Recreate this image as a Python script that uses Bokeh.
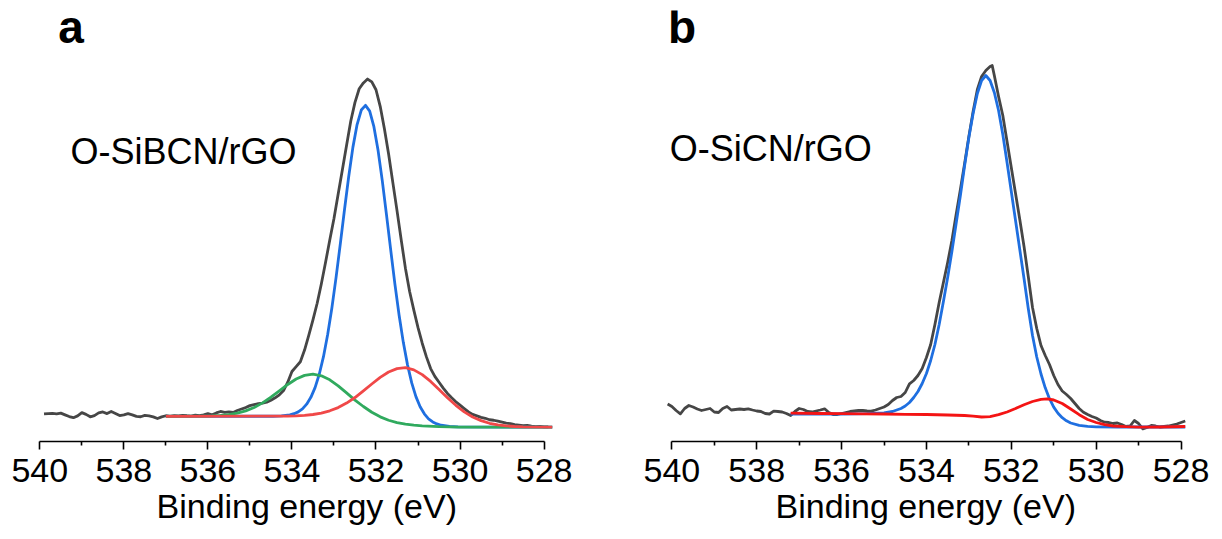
from bokeh.plotting import figure
from bokeh.models import Range1d, FixedTicker, Label, Title
from bokeh.layouts import row
from bokeh.embed import file_html
from bokeh.resources import INLINE

FONT = "Liberation Sans"

# ---------------- axis ----------------
tick_values = [540, 538, 536, 534, 532, 530, 528]
minor_tick_values = [539, 537, 535, 533, 531, 529]
x_label = "Binding energy (eV)"

# ---------------- panel a : O-SiBCN/rGO (intensity, a.u.) ----------------
a_name = "O-SiBCN/rGO"
a_data_E = [539.9, 539.8, 539.7, 539.6, 539.5, 539.4, 539.3, 539.2, 539.1, 539.0,
            538.9, 538.8, 538.7, 538.6, 538.5, 538.4, 538.3, 538.2, 538.1, 538.0,
            537.9, 537.8, 537.7, 537.6, 537.5, 537.4, 537.3, 537.2, 537.1, 537.0,
            536.9, 536.8, 536.7, 536.6, 536.5, 536.4, 536.3, 536.2, 536.1, 536.0,
            535.9, 535.8, 535.7, 535.6, 535.5, 535.4, 535.3, 535.2, 535.1, 535.0,
            534.9, 534.8, 534.7, 534.6, 534.5, 534.4, 534.3, 534.2, 534.1, 534.0,
            533.9, 533.8, 533.7, 533.6, 533.5, 533.4, 533.3, 533.2, 533.1, 533.0,
            532.9, 532.8, 532.7, 532.6, 532.5, 532.4, 532.3, 532.2, 532.1, 532.0,
            531.9, 531.8, 531.7, 531.6, 531.5, 531.4, 531.3, 531.2, 531.1, 531.0,
            530.9, 530.8, 530.7, 530.6, 530.5, 530.4, 530.3, 530.2, 530.1, 530.0,
            529.9, 529.8, 529.7, 529.6, 529.5, 529.4, 529.3, 529.2, 529.1, 529.0,
            528.9, 528.8, 528.7, 528.6, 528.5, 528.4, 528.3, 528.2, 528.1, 528.0,
            527.9]
a_data_I = [17.5, 17.8, 18.0, 17.5, 18.3, 16.5, 14.8, 13.6, 15.5, 18.8,
            17.0, 14.5, 15.8, 18.5, 19.5, 17.8, 20.0, 18.0, 15.8, 16.5,
            17.8, 16.5, 15.0, 14.6, 16.0, 15.5, 14.5, 12.8, 14.5, 15.6,
            15.2, 15.8, 15.4, 16.0, 15.6, 15.3, 16.2, 15.8, 16.5, 17.8,
            16.6, 18.5, 20.0, 19.0, 19.5, 19.0, 21.0, 22.5, 24.0, 26.0,
            27.0, 28.0, 28.5, 29.5, 31.5, 34.0, 37.0, 41.5, 50.0, 61.0,
            66.0, 71.0, 83.0, 98.0, 114.0, 131.0, 151.0, 173.0, 196.0, 218.0,
            243.0, 268.0, 293.0, 318.0, 337.0, 351.0, 357.0, 361.0, 358.0, 350.0,
            333.0, 310.0, 284.0, 255.0, 226.0, 196.0, 167.0, 143.0, 124.0, 106.0,
            90.0, 76.0, 64.0, 56.0, 50.0, 44.0, 38.5, 34.0, 30.0, 26.5,
            23.0, 19.5, 17.0, 15.5, 14.0, 13.0, 11.5, 11.0, 10.0, 9.0,
            8.0, 7.5, 6.5, 6.0, 5.5, 5.8, 5.0, 4.5, 4.8, 4.2,
            4.3]

a_blue_E = [537.0, 534.45, 534.25, 534.05, 533.95, 533.85, 533.75, 533.65, 533.55,
            533.45, 533.35, 533.25, 533.15, 533.05, 532.95, 532.85, 532.75, 532.65,
            532.55, 532.45, 532.35, 532.25, 532.15, 532.05, 531.95, 531.85, 531.75,
            531.65, 531.55, 531.45, 531.35, 531.25, 531.15, 531.05, 530.95, 530.85,
            530.75, 530.65, 530.55, 530.45, 530.25, 530.05, 527.8]
a_blue_I = [15.0, 15.1, 15.4, 16.5, 17.7, 19.6, 22.6, 27.5, 34.5,
            44.5, 58.2, 76.2, 98.9, 126.1, 157.5, 191.7, 226.9, 260.8,
            290.9, 314.3, 329.2, 334.0, 328.1, 312.1, 287.6, 256.5, 221.7,
            185.7, 150.7, 118.7, 90.9, 67.8, 49.3, 35.2, 24.9, 17.6,
            12.5, 9.3, 7.2, 5.9, 4.6, 4.1, 4.0]

a_green_E = [537.0, 536.1, 535.9, 535.7, 535.5, 535.3, 535.1, 534.9, 534.7, 534.5,
             534.3, 534.1, 533.9, 533.7, 533.5, 533.3, 533.1, 532.9, 532.7, 532.5,
             532.3, 532.1, 531.9, 531.7, 531.5, 531.3, 531.1, 530.9, 530.5, 530.0,
             527.8]
a_green_I = [15.0, 15.2, 15.4, 15.9, 16.8, 18.3, 20.6, 24.1, 28.8, 34.6,
             41.1, 47.7, 53.3, 57.0, 58.3, 56.6, 52.5, 46.3, 39.1, 31.7,
             25.1, 19.2, 14.5, 11.0, 8.6, 7.0, 5.9, 5.2, 4.4, 4.0,
             4.0]

a_red_E = [537.0, 534.1, 533.9, 533.7, 533.5, 533.3, 533.1, 532.9, 532.7, 532.5,
           532.3, 532.1, 531.9, 531.7, 531.5, 531.3, 531.1, 530.9, 530.7, 530.5,
           530.3, 530.1, 529.9, 529.7, 529.5, 529.3, 529.1, 528.9, 528.7, 528.5,
           527.8]
a_red_I = [15.0, 15.3, 15.5, 16.0, 16.9, 18.3, 20.7, 24.0, 28.6, 34.3,
           41.2, 48.2, 55.0, 60.5, 64.0, 64.9, 62.7, 57.8, 50.8, 42.5,
           34.1, 26.3, 19.6, 14.4, 10.6, 7.9, 6.2, 5.2, 4.6, 4.3,
           4.0]

# ---------------- panel b : O-SiCN/rGO (intensity, a.u.) ----------------
b_name = "O-SiCN/rGO"
b_data_E = [540.1, 540.0, 539.9, 539.8, 539.7, 539.6, 539.5, 539.4, 539.3, 539.2,
            539.1, 539.0, 538.9, 538.8, 538.7, 538.6, 538.5, 538.4, 538.3, 538.2,
            538.1, 538.0, 537.9, 537.8, 537.7, 537.6, 537.5, 537.4, 537.3, 537.2,
            537.1, 537.0, 536.9, 536.8, 536.7, 536.6, 536.5, 536.4, 536.3, 536.2,
            536.1, 536.0, 535.9, 535.8, 535.7, 535.6, 535.5, 535.4, 535.3, 535.2,
            535.1, 535.0, 534.9, 534.8, 534.7, 534.6, 534.5, 534.4, 534.3, 534.2,
            534.1, 534.0, 533.9, 533.8, 533.7, 533.6, 533.5, 533.4, 533.3, 533.2,
            533.1, 533.0, 532.9, 532.8, 532.7, 532.6, 532.5, 532.45, 532.4, 532.3,
            532.2, 532.1, 532.0, 531.9, 531.8, 531.7, 531.6, 531.5, 531.4, 531.3,
            531.2, 531.1, 531.0, 530.9, 530.8, 530.7, 530.6, 530.5, 530.4, 530.3,
            530.2, 530.1, 530.0, 529.9, 529.8, 529.7, 529.6, 529.5, 529.4, 529.3,
            529.2, 529.1, 529.0, 528.9, 528.8, 528.7, 528.6, 528.5, 528.4, 528.3,
            528.2, 528.1, 528.0, 527.9]
b_data_I = [37.5, 35.0, 31.0, 27.7, 33.0, 36.0, 34.5, 32.5, 31.0, 32.0,
            33.0, 29.5, 29.0, 33.0, 35.0, 31.5, 32.0, 32.5, 32.0, 32.7,
            31.5, 30.5, 30.0, 28.0, 27.5, 30.3, 30.0, 29.5, 28.0, 26.0,
            30.0, 33.0, 32.0, 30.0, 29.5, 30.5, 31.5, 32.7, 29.0, 27.0,
            27.0, 28.0, 29.0, 30.0, 30.5, 31.0, 31.0, 30.5, 30.3, 31.5,
            33.0, 34.5, 37.0, 41.0, 44.0, 45.0, 49.0, 57.7, 61.0, 66.0,
            73.0, 84.0, 97.0, 117.0, 139.0, 159.0, 179.0, 201.0, 227.0, 252.0,
            278.0, 305.0, 330.0, 352.0, 365.0, 371.0, 375.0, 376.0, 366.0, 345.0,
            326.0, 300.0, 274.0, 248.0, 222.0, 195.0, 165.0, 134.0, 113.0, 96.0,
            86.0, 77.0, 66.0, 57.0, 50.5, 47.0, 43.0, 38.0, 33.0, 29.3,
            27.0, 25.0, 23.5, 21.0, 19.3, 19.0, 18.0, 18.5, 17.0, 15.0,
            15.5, 21.0, 18.0, 12.7, 14.0, 16.0, 15.5, 14.5, 15.0, 15.5,
            16.5, 17.5, 19.0, 20.5]

b_blue_E = [537.2, 536.0, 535.4, 535.0, 534.8, 534.6, 534.5, 534.4, 534.3, 534.2,
            534.1, 534.0, 533.9, 533.8, 533.7, 533.6, 533.5, 533.4, 533.3, 533.2,
            533.1, 533.0, 532.9, 532.8, 532.7, 532.6, 532.5, 532.4, 532.3, 532.2,
            532.1, 532.0, 531.9, 531.8, 531.7, 531.6, 531.5, 531.4, 531.3, 531.2,
            531.1, 531.0, 530.9, 530.8, 530.7, 530.6, 530.4, 530.2, 530.0, 529.5,
            527.9]
b_blue_I = [27.5, 27.5, 27.8, 28.5, 30.0, 33.0, 35.5, 39.0, 44.0, 50.0,
            58.0, 68.0, 81.0, 97.0, 117.0, 140.0, 164.0, 190.0, 218.0, 246.0,
            276.0, 304.0, 328.0, 348.0, 361.0, 366.0, 361.0, 349.0, 331.0, 307.0,
            279.0, 250.0, 221.0, 192.0, 163.0, 133.0, 106.0, 84.5, 67.5, 53.7,
            42.8, 34.4, 28.3, 23.8, 20.7, 18.5, 16.1, 15.1, 14.7, 14.5,
            14.5]

b_red_E = [537.2, 536.5, 536.0, 535.5, 535.0, 534.5, 534.0, 533.5, 533.1, 532.9,
           532.7, 532.5, 532.3, 532.1, 531.9, 531.7, 531.5, 531.3, 531.15, 531.0,
           530.8, 530.6, 530.4, 530.2, 530.0, 529.8, 529.6, 529.3, 529.0, 528.5,
           527.9]
b_red_I = [28.3, 28.0, 27.8, 27.7, 27.5, 27.2, 27.0, 26.5, 26.0, 25.3,
           24.5, 24.8, 26.8, 29.5, 33.0, 36.8, 40.0, 42.2, 42.7, 41.5,
           38.0, 32.5, 26.8, 22.0, 19.0, 16.8, 15.5, 14.8, 14.4, 14.5,
           15.0]

# ---------------- styles ----------------
C_DATA = "#464646"
C_BLUE = "#1f6fe0"
C_GREEN = "#30aa5e"
C_RED_A = "#f04848"
C_RED_B = "#f41414"
LW = 2.8


def make_panel(width, border_left, border_right, y_start, y_end, label_offset):
    p = figure(width=width, height=539,
               x_range=Range1d(540.15, 527.8), y_range=Range1d(y_start, y_end),
               output_backend="svg", toolbar_location=None,
               y_axis_location=None,
               min_border_left=border_left, min_border_right=border_right,
               min_border_top=10, min_border_bottom=98)
    p.outline_line_color = None
    p.grid.visible = False
    p.background_fill_color = "white"
    p.border_fill_color = "white"
    ax = p.xaxis[0]
    ax.ticker = FixedTicker(ticks=tick_values, minor_ticks=minor_tick_values)
    ax.bounds = (min(tick_values), max(tick_values))
    ax.major_label_text_font = FONT
    ax.major_label_text_font_size = "34px"
    ax.major_label_text_color = "black"
    ax.major_label_standoff = 9
    ax.axis_line_color = "black"
    ax.axis_line_width = 1.6
    ax.major_tick_line_color = "black"
    ax.major_tick_line_width = 1.6
    ax.minor_tick_line_color = "black"
    ax.minor_tick_line_width = 1.6
    ax.major_tick_in = 0
    ax.major_tick_out = 8
    ax.minor_tick_in = 0
    ax.minor_tick_out = 4
    p.add_layout(Title(text=x_label, align="left", offset=label_offset, standoff=0,
                       text_font=FONT, text_font_size="34px",
                       text_font_style="normal", text_color="black"), "below")
    return p


def add_text(p, x, y, text, size, bold=False):
    p.add_layout(Label(x=x, y=y, text=text, text_font=FONT, text_font_size=size,
                       text_font_style="bold" if bold else "normal",
                       text_color="black", text_align="left",
                       text_baseline="alphabetic"))


# panel a
pa = make_panel(592, 33, 40, -10.8, 431.3, 123)
pa.line(a_data_E, a_data_I, line_color=C_DATA, line_width=LW, line_join="round")
pa.line(a_blue_E, a_blue_I, line_color=C_BLUE, line_width=LW, line_join="round")
pa.line(a_green_E, a_green_I, line_color=C_GREEN, line_width=LW, line_join="round")
pa.line(a_red_E, a_red_I, line_color=C_RED_A, line_width=LW, line_join="round")
add_text(pa, 539.56, 414.8, "a", "46px", bold=True)
add_text(pa, 539.27, 286.7, a_name, "36px")

# panel b
pb = make_panel(622, 73, 25, 0, 431, 110)
pb.line(b_data_E, b_data_I, line_color=C_DATA, line_width=LW, line_join="round")
pb.line(b_blue_E, b_blue_I, line_color=C_BLUE, line_width=LW, line_join="round")
pb.line(b_red_E, b_red_I, line_color=C_RED_B, line_width=LW, line_join="round")
add_text(pb, 540.09, 415, "b", "46px", bold=True)
add_text(pb, 540.05, 293, b_name, "36px")

layout = row(pa, pb)
open("out.html", "w").write(file_html(layout, INLINE))
